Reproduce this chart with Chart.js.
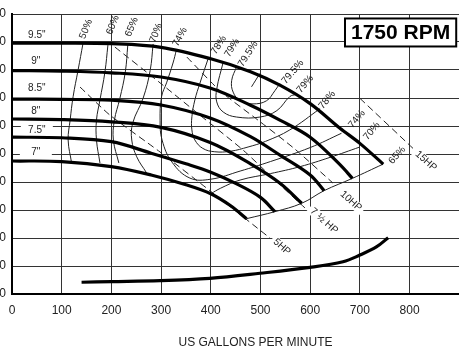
<!DOCTYPE html>
<html><head><meta charset="utf-8">
<script src="https://cdn.jsdelivr.net/npm/chart.js@4/dist/chart.umd.min.js"></script>
<style>
html,body{margin:0;padding:0;background:#fff;overflow:hidden;}
#wrap{position:relative;width:459px;height:355px;overflow:hidden;background:#fff;}
#c{position:absolute;left:-30px;top:0;}
</style></head><body>
<div id="wrap"><canvas id="c" width="560" height="355"></canvas></div>
<script>
const FONT = "'Liberation Sans', Arial, Helvetica, sans-serif";
const xTickValues = [0,100,200,300,400,500,600,700,800];
const yTickValues = [0,10,20,30,40,50,60,70,80,90,100];
const xTitle = 'US GALLONS PER MINUTE';
const rpmText = '1750 RPM';

// head curves (US gpm, ft)
const gpm95 = [0,100,200,300,400,480,540,600,660,700,747];
const ft95  = [89.6,89.6,89.4,88.1,84.0,79.4,74.5,68.0,59.2,53.8,46.4];
const gpm90 = [0,100,200,300,400,480,540,600,660,685];
const ft90  = [79.8,79.6,79.0,77.5,73.5,67.4,62.0,56.0,46.2,41.3];
const gpm85 = [0,100,200,300,400,480,540,600,628];
const ft85  = [69.6,69.5,69.2,67.5,62.8,56.2,49.5,42.5,36.9];
const gpm80 = [0,100,200,300,400,480,540,583];
const ft80  = [62.5,62.3,61.5,59.5,54.0,46.5,39.5,32.4];
const gpm75 = [0,100,200,280,350,400,450,500,529];
const ft75  = [56.0,55.8,54.4,50.3,46.5,43.5,39.5,34.5,29.4];
const gpm70 = [0,100,200,280,350,400,440,472];
const ft70  = [47.5,47.3,45.5,42.5,39.0,35.8,31.5,26.9];

// NPSH curve
const npshGpm = [140,200,298,398,499,600,666,700,734,757];
const npshFt  = [4.2,4.4,4.75,5.6,7.4,9.5,11.5,13.9,16.9,20.1];

// efficiency contours
const e50Gpm = [143,133,123,117,113,120];
const e50Ft  = [89.6,80,70.5,62.1,55,46.7];
const e60Gpm = [193,187,177,170,170,177];
const e60Ft  = [88.9,79.3,69.3,62.1,55,46.8];
const e65Gpm = [233,228,217,206,204,215];
const e65Ft  = [88.9,79.3,69.8,62,55,46.8];
const e70Gpm = [284,278,264,243,241,251,271];
const e70Ft  = [89.3,79.8,70,61.1,55,49,43.2];
const e74Gpm = [331,324,311,301,298,302,322,358,400,459,520,600,663];
const e74Ft  = [87.3,82.5,75.4,70.5,62.1,55,47.1,41.4,41,43.9,47.3,52.3,57.4];
const e78Gpm = [395,378,368,362,362,368,384,408,440,475,510,559,620];
const e78Ft  = [84.2,75.2,69.3,63.3,58.6,55,52,50.8,51,52.5,54.5,58.6,66.2];
const e79Gpm = [425,412,412,425,452,499,533,559,572];
const e79Ft  = [82.8,73.2,68.6,65,63.2,63.2,65.5,70.5,71.3];
const e795Gpm = [452,442,445,459,485,512,529,539];
const e795Ft  = [81.2,76.2,72.1,69,67.9,69,72.6,75.2];
const bepGpm = [482,499];
const bepFt  = [74,78.8];
const e70rGpm = [700,640,580,520,459,420,400];
const e70rFt  = [52.5,48.8,45.5,43,40.7,37.8,35.8];
const e65rGpm = [747,685,628,583,529,472];
const e65rFt  = [46.4,41.3,36.9,32.4,29.4,26.9];

// horsepower lines
const hp5Gpm  = [137,197,298,404,519];
const hp5Ft   = [73.9,63.9,50.7,36.1,20.0];
const hp75Gpm = [207,298,378,465,529,594];
const hp75Ft  = [88.2,75.4,63.9,51.4,40.7,30.0];
const hp10Gpm = [352,419,495,569,646];
const hp10Ft  = [84.6,72.5,62.1,51.8,39.6];
const hp15Gpm = [700,807];
const hp15Ft  = [69.9,52.0];

// annotation labels
const impText = ['9.5"','9"','8.5"','8"','7.5"','7"'];
const impGpm  = [50,48,50,48,50,48];
const impFt   = [92.5,83.2,73.6,65.4,58.6,50.7];
const effText = ['50%','60%','65%','70%','74%','78%','79%','79.5%','79.5%','79%','78%','74%','70%','65%'];
const effGpm  = [149,203,241,290,338,416,443,475,565,590,634,694,724,775];
const effFt   = [94.6,96.1,95.4,93.2,91.8,88.9,87.9,85.7,79.3,75,69.3,62.5,58.2,49.6];
const effAng  = [-68,-68,-68,-68,-62,-58,-58,-58,-50,-50,-50,-50,-50,-48];
const hpText  = ['15HP','10HP','7 \u00BD HP','5HP'];
const hpGpm   = [833,682,628,543];
const hpFt    = [47.5,33.2,26.1,16.8];
const hpAng   = [42,42,42,42];
const rpmGpm = 782, rpmFt = 93.4;

const pts = (xs, ys) => xs.map((x, i) => ({x: x, y: ys[i]}));
const head = (xs, ys) => ({data: pts(xs, ys), borderColor: '#000', borderWidth: 3.2, tension: 0.35});
const thin = (xs, ys) => ({data: pts(xs, ys), borderColor: '#222', borderWidth: 1, tension: 0.4});
const dash = (xs, ys) => ({data: pts(xs, ys), borderColor: '#222', borderWidth: 1, borderDash: [7,4], tension: 0.2});

const datasets = [
  head(gpm95, ft95), head(gpm90, ft90), head(gpm85, ft85), head(gpm80, ft80), head(gpm75, ft75), head(gpm70, ft70),
  head(npshGpm, npshFt),
  thin(e50Gpm, e50Ft), thin(e60Gpm, e60Ft), thin(e65Gpm, e65Ft), thin(e70Gpm, e70Ft), thin(e74Gpm, e74Ft),
  thin(e78Gpm, e78Ft), thin(e79Gpm, e79Ft), thin(e795Gpm, e795Ft), thin(bepGpm, bepFt),
  thin(e70rGpm, e70rFt), thin(e65rGpm, e65rFt),
  dash(hp5Gpm, hp5Ft), dash(hp75Gpm, hp75Ft), dash(hp10Gpm, hp10Ft), dash(hp15Gpm, hp15Ft)
];
datasets.forEach(d => { d.showLine = true; d.pointRadius = 0; d.fill = false; });

function labelBg(ctx, x, y, ang, w, h) {
  ctx.save(); ctx.translate(x, y); ctx.rotate(ang * Math.PI / 180);
  ctx.fillStyle = '#fff'; ctx.fillRect(-w/2, -h/2, w, h); ctx.restore();
}
function labelText(ctx, t, x, y, ang, font) {
  ctx.save(); ctx.translate(x, y); ctx.rotate(ang * Math.PI / 180);
  ctx.font = font; ctx.fillStyle = '#222'; ctx.textAlign = 'center'; ctx.textBaseline = 'middle';
  ctx.fillText(t, 0, 0); ctx.restore();
}

const annot = {
  id: 'annot',
  beforeDatasetsDraw(chart) {
    const {ctx, scales: {x, y}} = chart;
    impText.forEach((t, i) => labelBg(ctx, x.getPixelForValue(impGpm[i]), y.getPixelForValue(impFt[i]), 0, 32, 11));
    ctx.save(); ctx.font = '10px ' + FONT;
    hpText.forEach((t, i) => labelBg(ctx, x.getPixelForValue(hpGpm[i]), y.getPixelForValue(hpFt[i]), hpAng[i], ctx.measureText(t).width + 6, 10));
    ctx.restore();
  },
  afterDatasetsDraw(chart) {
    const {ctx, scales: {x, y}} = chart;
    const f10 = '10px ' + FONT;
    impText.forEach((t, i) => labelText(ctx, t, x.getPixelForValue(impGpm[i]), y.getPixelForValue(impFt[i]), 0, f10));
    effText.forEach((t, i) => labelText(ctx, t, x.getPixelForValue(effGpm[i]), y.getPixelForValue(effFt[i]), effAng[i], f10));
    hpText.forEach((t, i) => labelText(ctx, t, x.getPixelForValue(hpGpm[i]), y.getPixelForValue(hpFt[i]), hpAng[i], f10));
    // RPM box
    const cx = x.getPixelForValue(rpmGpm), cy = y.getPixelForValue(rpmFt);
    ctx.save();
    ctx.font = 'bold 21px ' + FONT;
    const w = ctx.measureText(rpmText).width + 12, h = 28;
    ctx.fillStyle = '#fff'; ctx.fillRect(cx - w/2, cy - h/2, w, h);
    ctx.strokeStyle = '#000'; ctx.lineWidth = 2; ctx.strokeRect(cx - w/2, cy - h/2, w, h);
    ctx.fillStyle = '#000'; ctx.textAlign = 'center'; ctx.textBaseline = 'middle';
    ctx.fillText(rpmText, cx, cy + 1);
    ctx.restore();
  }
};

new Chart(document.getElementById('c'), {
  type: 'scatter',
  data: {datasets},
  options: {
    responsive: false, animation: false, devicePixelRatio: 1,
    layout: {padding: {left: 0, right: 31, top: 14, bottom: 0}},
    plugins: {legend: {display: false}, tooltip: {enabled: false}},
    scales: {
      x: {
        type: 'linear', min: 0, max: 980,
        afterBuildTicks: s => { s.ticks = xTickValues.map(v => ({value: v})); },
        afterFit: s => { s.height = 61; },
        grid: {color: '#333', lineWidth: 1, drawTicks: false},
        border: {color: '#000', width: 2},
        ticks: {font: {family: FONT, size: 12}, color: '#222', padding: 9, maxRotation: 0, autoSkip: false},
        title: {display: true, text: xTitle, font: {family: FONT, size: 12}, color: '#222', padding: {top: 0, bottom: 5}}
      },
      y: {
        type: 'linear', min: 0, max: 100,
        afterBuildTicks: s => { s.ticks = yTickValues.map(v => ({value: v})); },
        afterFit: s => { s.width = 42; },
        grid: {color: '#333', lineWidth: 1, drawTicks: false},
        border: {color: '#000', width: 2},
        ticks: {font: {family: FONT, size: 12}, color: '#222', padding: 6, autoSkip: false}
      }
    }
  },
  plugins: [annot]
});
</script>
</body></html>
